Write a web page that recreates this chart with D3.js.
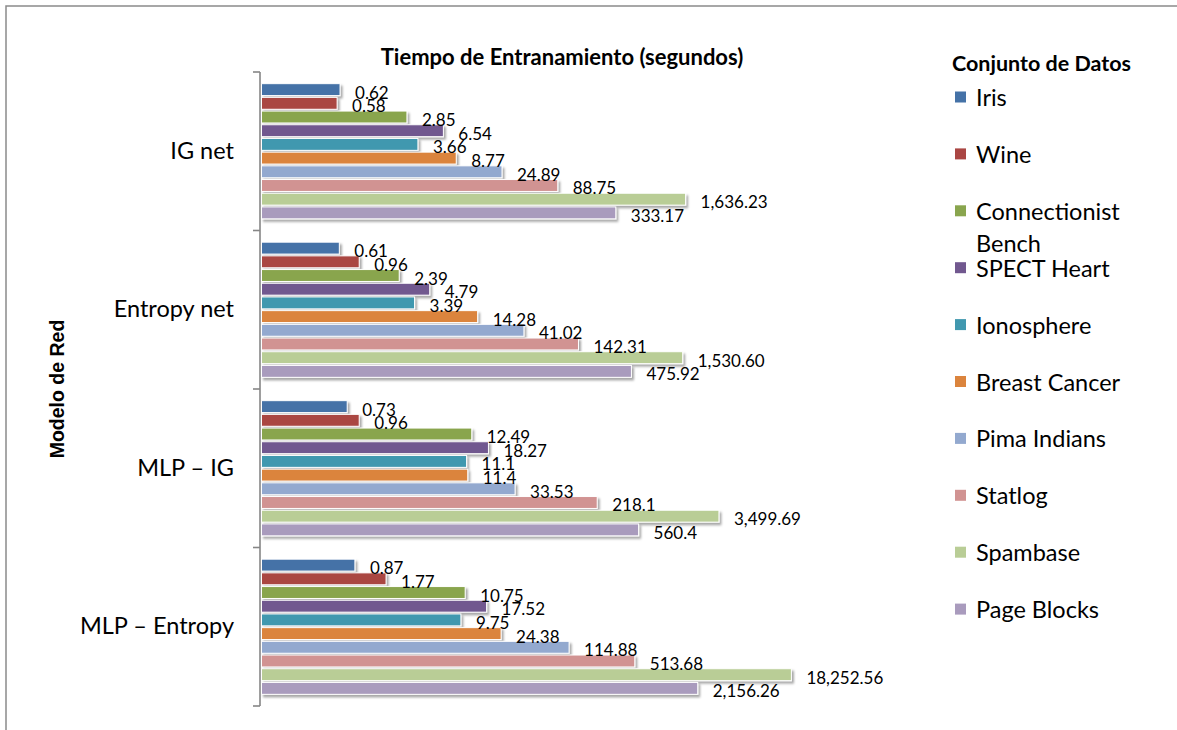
<!DOCTYPE html>
<html>
<head>
<meta charset="utf-8">
<script src="https://cdn.jsdelivr.net/npm/d3@7/dist/d3.min.js"></script>
<style>
  html, body { margin: 0; padding: 0; background: #fff; }
  svg { display: block; }
</style>
</head>
<body>
<svg id="chart" width="1177" height="730"></svg>
<script>
// Network models (category axis)
const models = ["IG net", "Entropy net", "MLP – IG", "MLP – Entropy"];

// Datasets (series)
const datasets = ["Iris", "Wine", "Connectionist Bench", "SPECT Heart", "Ionosphere",
  "Breast Cancer", "Pima Indians", "Statlog", "Spambase", "Page Blocks"];

// Training time in seconds, one array per model, in dataset order
const igNet       = [0.62, 0.58, 2.85, 6.54, 3.66, 8.77, 24.89, 88.75, 1636.23, 333.17];
const entropyNet  = [0.61, 0.96, 2.39, 4.79, 3.39, 14.28, 41.02, 142.31, 1530.60, 475.92];
const mlpIG       = [0.73, 0.96, 12.49, 18.27, 11.1, 11.4, 33.53, 218.1, 3499.69, 560.4];
const mlpEntropy  = [0.87, 1.77, 10.75, 17.52, 9.75, 24.38, 114.88, 513.68, 18252.56, 2156.26];
const seriesByModel = [igNet, entropyNet, mlpIG, mlpEntropy];

const colors = ["#4572A7", "#AA4643", "#89A54E", "#71588F", "#4198AF",
  "#DB843D", "#93A9CF", "#D19392", "#B9CD96", "#A99BBD"];

const chartTitle = "Tiempo de Entranamiento (segundos)";
const yTitle = "Modelo de Red";
const legendTitle = "Conjunto de Datos";

const rows = [];
models.forEach((m, i) => datasets.forEach((d, j) => rows.push({ model: m, dataset: d, value: seriesByModel[i][j], j })));

const svg = d3.select("#chart");
const FONT = "Lato, 'Open Sans', sans-serif";

// Drop shadow for bars
const defs = svg.append("defs");
const f = defs.append("filter").attr("id", "shadow").attr("x", "-5%").attr("y", "-30%").attr("width", "115%").attr("height", "190%");
f.append("feDropShadow").attr("dx", 2).attr("dy", 2.5).attr("stdDeviation", 1.3)
  .attr("flood-color", "#000").attr("flood-opacity", 0.35);

// Outer frame
svg.append("rect").attr("x", 6).attr("y", 6).attr("width", 1190).attr("height", 740)
  .attr("fill", "none").attr("stroke", "#8a8a8a").attr("stroke-width", 1.5);

// Scales
const x = d3.scaleLog().domain([0.1, 1e5]).range([260, 866]);
const yOuter = d3.scaleBand().domain(models).range([72, 706]).paddingInner(0.142).paddingOuter(0.071);
const yInner = d3.scaleBand().domain(datasets).range([0, yOuter.bandwidth()]).paddingInner(0.13).paddingOuter(0.03);
const color = d3.scaleOrdinal().domain(datasets).range(colors);

// Bars
const g = svg.append("g");
g.selectAll("rect.bar").data(rows).join("rect")
  .attr("class", "bar")
  .attr("x", x(0.1) + 1.5)
  .attr("y", d => yOuter(d.model) + yInner(d.dataset))
  .attr("width", d => x(d.value) - x(0.1) - 1.5)
  .attr("height", yInner.bandwidth())
  .attr("fill", d => color(d.dataset))
  .attr("stroke", "#fff").attr("stroke-width", 1)
  .attr("filter", "url(#shadow)");

// Value labels
const fmt = v => v >= 1000 ? d3.format(",.2f")(v) : String(v);
g.selectAll("text.val").data(rows).join("text")
  .attr("class", "val")
  .attr("x", d => x(d.value) + 15)
  .attr("y", d => yOuter(d.model) + yInner(d.dataset) + yInner.bandwidth() / 2 + 2.5)
  .attr("dominant-baseline", "central")
  .attr("font-family", FONT).attr("font-size", 17).attr("fill", "#000")
  .text(d => fmt(d.value));

// Category axis
const axis = svg.append("g").attr("transform", "translate(260,0)")
  .call(d3.axisLeft(yOuter).tickSize(0).tickPadding(26));
axis.select(".domain").remove();
axis.selectAll("text").attr("font-family", FONT).attr("font-size", 23.5).attr("fill", "#000");

const axisCol = "#868686";
svg.append("line").attr("x1", 260).attr("x2", 260).attr("y1", 72).attr("y2", 706)
  .attr("stroke", axisCol).attr("stroke-width", 1.6);
const step = yOuter.step();
const bounds = d3.range(models.length + 1).map(i => 72 + i * step);
svg.selectAll("line.tick").data(bounds).join("line").attr("class", "tick")
  .attr("x1", 253).attr("x2", 260).attr("y1", d => d).attr("y2", d => d)
  .attr("stroke", axisCol).attr("stroke-width", 1.6);

// Titles
svg.append("text").attr("x", 562).attr("y", 56).attr("text-anchor", "middle")
  .attr("dominant-baseline", "central")
  .attr("font-family", FONT).attr("font-weight", "bold").attr("font-size", 22)
  .text(chartTitle);

svg.append("text").attr("transform", "translate(57,389) rotate(-90)")
  .attr("text-anchor", "middle").attr("dominant-baseline", "central")
  .attr("font-family", "'Liberation Sans', Arial, sans-serif").attr("font-weight", "bold").attr("font-size", 19.5)
  .text(yTitle);

// Legend
svg.append("text").attr("x", 952).attr("y", 63).attr("dominant-baseline", "central")
  .attr("font-family", FONT).attr("font-weight", "bold").attr("font-size", 21.5)
  .text(legendTitle);

const lg = svg.append("g").selectAll("g").data(datasets).join("g")
  .attr("transform", (d, i) => `translate(955,${97 + i * 56.9})`);
lg.append("rect").attr("x", 0).attr("y", -5.5).attr("width", 11).attr("height", 11)
  .attr("fill", d => color(d));
lg.each(function (d) {
  const t = d3.select(this).append("text").attr("x", 21).attr("y", 0)
    .attr("dominant-baseline", "central")
    .attr("font-family", FONT).attr("font-size", 23.5).attr("fill", "#000");
  const words = d.split(" ");
  let line = [], tspan = t.append("tspan").attr("x", 21).attr("dy", 0);
  words.forEach(w => {
    line.push(w);
    tspan.text(line.join(" "));
    if (tspan.node().getComputedTextLength() > 190 && line.length > 1) {
      line.pop();
      tspan.text(line.join(" "));
      line = [w];
      tspan = t.append("tspan").attr("x", 21).attr("dy", 32).text(w);
    }
  });
});
</script>
</body>
</html>
